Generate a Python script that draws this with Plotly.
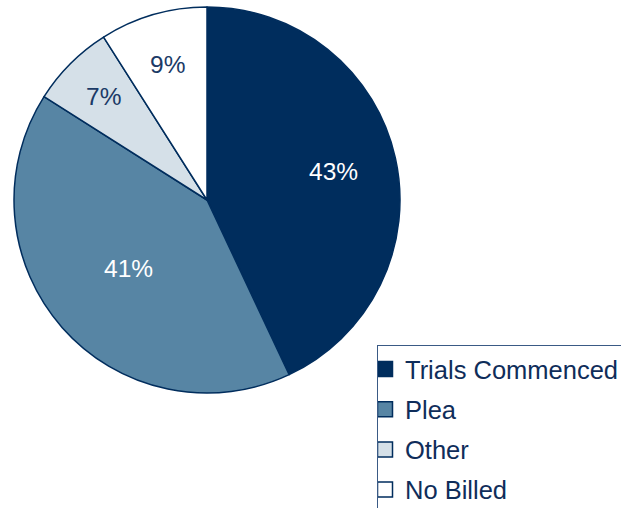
import math
import plotly.graph_objects as go

# Share of case outcomes
categories = ["Trials Commenced", "Plea", "Other", "No Billed"]
shares = [43, 41, 7, 9]

slice_colors = ["#002D5D", "#5785A4", "#D5E0E8", "#FFFFFF"]
label_colors = ["#FFFFFF", "#FFFFFF", "#1B3A66", "#1B3A66"]
# how far out along each slice's bisector its label sits (fraction of radius)
label_radius = [0.67, 0.54, 0.76, 0.73]
navy = "#002D5D"
font_family = "Liberation Sans, Arial, sans-serif"

W, H = 621, 508
cx, cy, r = 207, 200, 193  # pie centre and radius in pixels

fig = go.Figure()

fig.add_trace(
    go.Pie(
        labels=categories,
        values=shares,
        sort=False,
        direction="clockwise",
        rotation=0,
        marker=dict(colors=slice_colors, line=dict(color=navy, width=1.5)),
        textinfo="none",
        domain=dict(
            x=[(cx - r) / W, (cx + r) / W],
            y=[1 - (cy + r) / H, 1 - (cy - r) / H],
        ),
        hoverinfo="label+percent",
        showlegend=False,
    )
)

# Percentage labels placed on each slice's bisector
total = sum(shares)
cum = 0
for val, col, f in zip(shares, label_colors, label_radius):
    theta = 2 * math.pi * (cum + val / 2) / total  # clockwise from 12 o'clock
    cum += val
    px = cx + f * r * math.sin(theta)
    py = cy - f * r * math.cos(theta)
    fig.add_annotation(
        x=px / W, y=1 - py / H, xref="paper", yref="paper",
        text=f"{val}%", showarrow=False,
        xanchor="center", yanchor="middle",
        font=dict(family=font_family, size=24.5, color=col),
    )

# Legend keys: one entry per category, each in its own group so the
# group gap sets the spacing between rows
for name, color in zip(categories, slice_colors):
    fig.add_trace(
        go.Scatter(
            x=[None],
            y=[None],
            mode="markers",
            name=name,
            legendgroup=name,
            marker=dict(symbol="square", size=15, color=color,
                        line=dict(color=navy, width=1.5)),
            hoverinfo="skip",
        )
    )

fig.update_xaxes(visible=False)
fig.update_yaxes(visible=False)

fig.update_layout(
    width=W,
    height=H,
    margin=dict(l=0, r=0, t=0, b=0, autoexpand=False),
    paper_bgcolor="white",
    plot_bgcolor="white",
    showlegend=True,
    legend=dict(
        x=377 / W,
        y=1 - 345 / H,
        xanchor="left",
        yanchor="top",
        bordercolor="#3A5A85",
        borderwidth=1,
        bgcolor="rgba(255,255,255,0)",
        tracegroupgap=4,
        indentation=-13,
        font=dict(family=font_family, size=25.5, color="#0F2D5A"),
    ),
)

fig.write_html("out.html")
